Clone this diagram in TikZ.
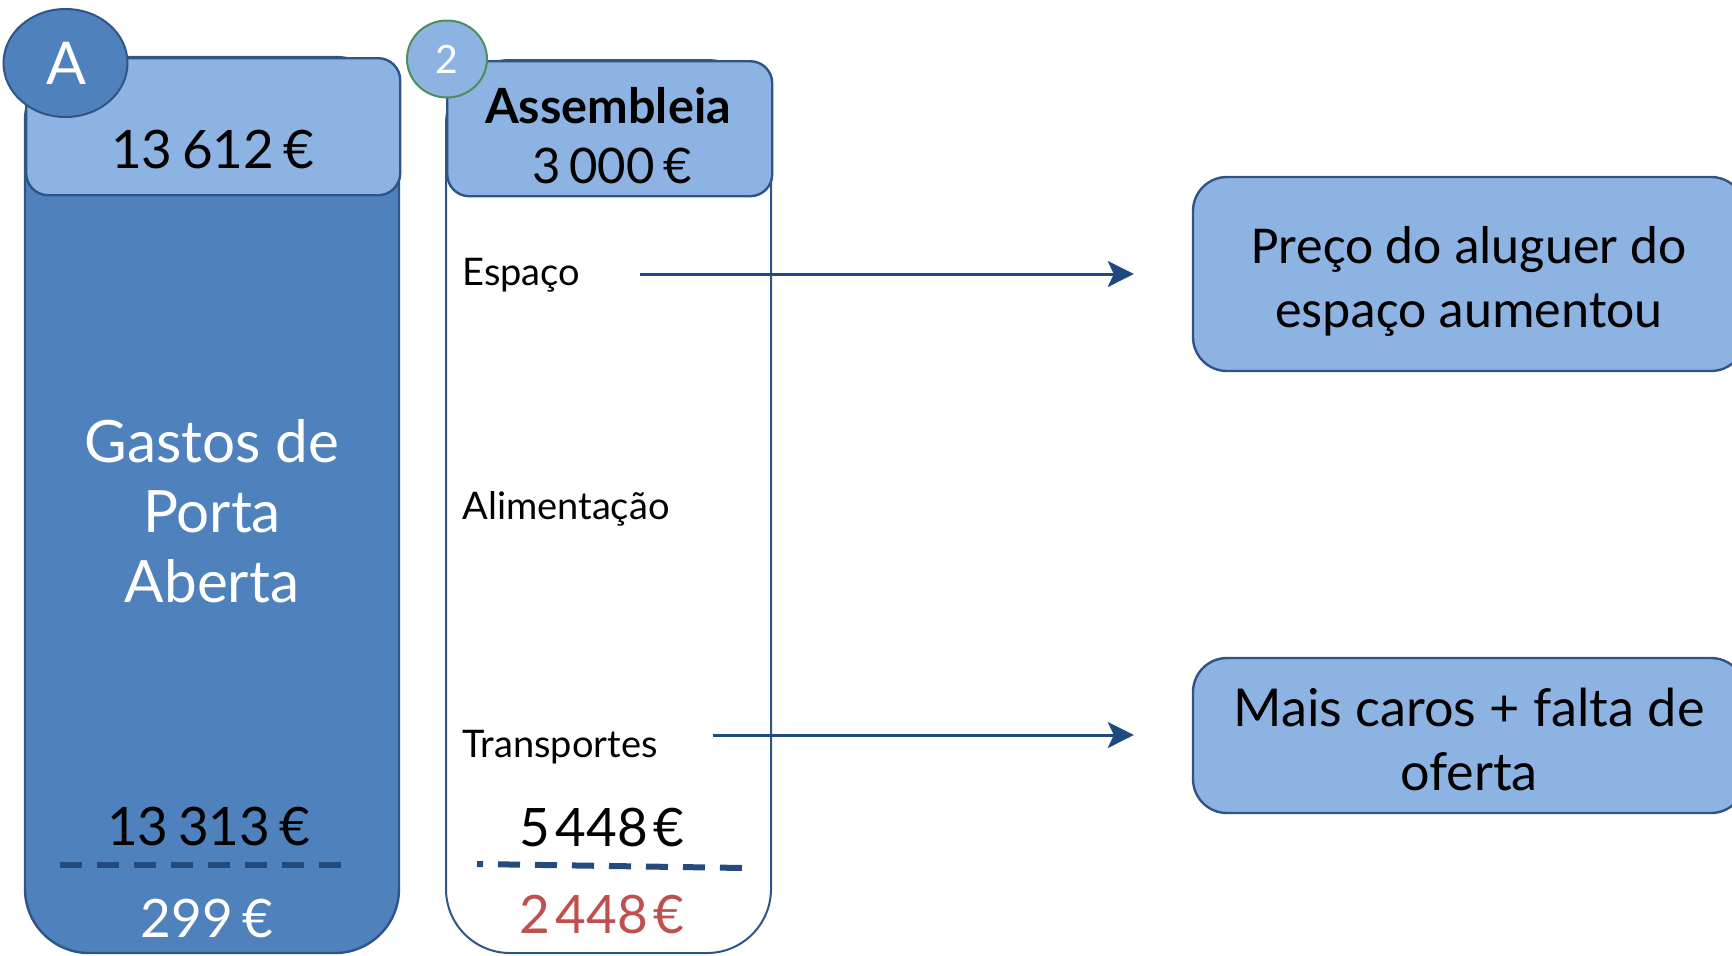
\documentclass[tikz,border=0pt]{standalone}
\usepackage{fontspec}
\setmainfont{Lato}
\newfontfamily\calib{Carlito}
\usetikzlibrary{arrows.meta,shapes.geometric}
\definecolor{hdr}{HTML}{8DB3E2}
\definecolor{bodyblue}{HTML}{4F81BD}
\definecolor{edge}{HTML}{2F5487}
\definecolor{arrc}{HTML}{1F4A80}
\definecolor{dashc}{HTML}{254A7E}
\definecolor{grn}{HTML}{4F8D5B}
\definecolor{redt}{HTML}{C0504D}
\newcommand\gs{\hspace{0.18em}}
\newcommand\gt{\hspace{0.1em}}
\tikzset{
  hdrbox/.style={draw=edge, line width=1.2pt, fill=hdr, rounded corners=11pt},
  sidebox/.style={draw=edge, line width=1.2pt, fill=hdr, rounded corners=17pt},
  arr/.style={draw=arrc, line width=1.5pt, -{Stealth[length=13pt,width=13pt,inset=3pt]}},
  dline/.style={draw=dashc, line width=3pt, dash pattern=on 11pt off 7.5pt},
  lbl/.style={font=\fontsize{19}{22}\selectfont, anchor=base west, inner sep=0pt},
  big/.style={font=\fontsize{26.5}{30}\selectfont, inner sep=0pt},
}
\begin{document}
\begin{tikzpicture}[x=0.5pt,y=-0.5pt]
\useasboundingbox (0,0) rectangle (1732,955);
\clip (0,0) rectangle (1732,955);
% column A
\path[draw=edge, line width=1.2pt, fill=bodyblue, rounded corners=32pt] (25,57) rectangle (399,953);
\node[hdrbox, minimum width=187pt, minimum height=68.5pt, anchor=north west] (hA) at (25,57) {};
\node[big, anchor=base] (vA) at (213,168) {13\gs612\gs€};
\node[draw=edge, line width=1pt, fill=bodyblue, ellipse, minimum width=62pt, minimum height=54pt, inner sep=0pt] (cA) at (65.5,63) {};
\node[font=\fontsize{29.5}{30}\selectfont, text=white, anchor=base] (tA) at (66,84) {A};
\node[font=\fontsize{29.2}{35}\selectfont, text=white, align=center, anchor=base] (gastos) at (212,602) {Gastos de\\Porta\\Aberta};
\node[big, anchor=base] (v1) at (209,845) {13\gs313\gs€};
\coordinate (dA1) at (60,865);
\coordinate (dA2) at (342,865);
\draw[dline] (dA1) -- (dA2);
\node[big, text=white, anchor=base] (v2) at (207,937) {299\gs€};
% column 2
\path[draw=edge, line width=1pt, fill=white, rounded corners=32pt] (446,60) rectangle (771,953);
\node[hdrbox, minimum width=162.5pt, minimum height=67.5pt, anchor=north west] (h2) at (446,60) {};
\node[font=\bfseries\fontsize{24.3}{30}\selectfont, anchor=base, inner sep=0pt] (ass) at (608,123) {Assembleia};
\node[font=\fontsize{24.5}{30}\selectfont, anchor=base, inner sep=0pt] (v3) at (612,183) {3\gs000\gs€};
\node[draw=grn, line width=1pt, fill=hdr, ellipse, minimum width=40pt, minimum height=38.5pt, inner sep=0pt] (c2) at (447,59) {};
\node[font=\fontsize{19.5}{22}\selectfont, text=white, anchor=base] (t2) at (447,73) {2};
\node[lbl] (esp) at (462,285) {Espaço};
\node[lbl] (ali) at (462,519) {Alimentação};
\node[lbl] (tra) at (462,757) {Transportes};
\node[big, anchor=base] (v4) at (602,846) {5\gt448\gt€};
\coordinate (d21) at (477,864);
\coordinate (d22) at (745,868);
\draw[dline, dash phase=8pt] (d21) -- (d22);
\node[big, text=redt, anchor=base] (v5) at (602,933) {2\gt448\gt€};
% right boxes
\node[sidebox, minimum width=276pt, minimum height=97pt, inner sep=0pt] (b1) at (1469,274) {};
\node[font=\calib\fontsize{26.7}{32}\selectfont, align=center, inner sep=0pt] (b1t) at (1469,281) {Preço do aluguer do\\espaço aumentou};
\node[sidebox, minimum width=276pt, minimum height=77.5pt, inner sep=0pt] (b2) at (1469,735.5) {};
\node[font=\fontsize{26.1}{32}\selectfont, align=center, inner sep=0pt] (b2t) at (1469,739) {Mais caros + falta de\\oferta};
% arrows
\coordinate (a1) at (640,274);
\coordinate (a2) at (713,735);
\draw[arr, shorten >=29pt] (a1) -- (a1 -| b1.west);
\draw[arr, shorten >=29pt] (a2) -- (a2 -| b2.west);
\end{tikzpicture}
\end{document}
